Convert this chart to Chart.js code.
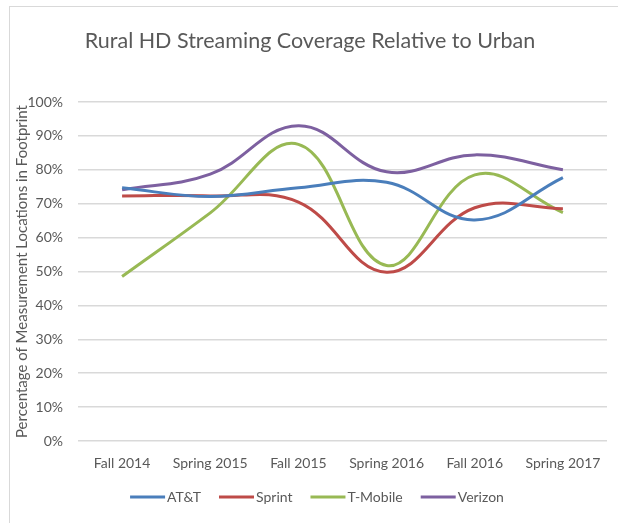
<!DOCTYPE html>
<html>
<head>
<meta charset="utf-8">
<script src="https://cdn.jsdelivr.net/npm/chart.js@4"></script>
<style>
  html, body { margin: 0; padding: 0; background: #ffffff; }
  #wrap { position: relative; width: 618px; height: 523px; overflow: hidden; }
  #frame { position: absolute; left: 9px; top: 6px; width: 640px; height: 560px; border: 1px solid #d9d9d9; box-sizing: border-box; pointer-events: none; }
  canvas { position: absolute; left: 0; top: 0; }
</style>
</head>
<body>
<div id="wrap">
  <canvas id="c" width="618" height="523"></canvas>
  <div id="frame"></div>
</div>
<script>
const categories = ["Fall 2014", "Spring 2015", "Fall 2015", "Spring 2016", "Fall 2016", "Spring 2017"];
const seriesNames = ["AT&T", "Sprint", "T-Mobile", "Verizon"];
const att     = [74.7, 72.1, 74.7, 76.3, 65.2, 77.7];
const sprint  = [72.3, 72.3, 70.5, 49.8, 68.8, 68.5];
const tmobile = [48.5, 67.3, 87.5, 51.8, 78.5, 67.4];
const verizon = [74.1, 78.7, 93.0, 79.4, 84.4, 80.0];
const yTicks = [0, 10, 20, 30, 40, 50, 60, 70, 80, 90, 100];
const colors = ["#4a7ebb", "#be4b48", "#98b954", "#7d60a0"];
const allSeries = [att, sprint, tmobile, verizon];

const FONT = "Lato, 'Open Sans', sans-serif";
const textColor = "#595959";

// Excel-style legend: short line, tight text gap
const excelLegend = {
  id: "excelLegend",
  afterDraw(chart) {
    const ctx = chart.ctx;
    const lineLen = 35, textGap = 2, itemGap = 18;
    ctx.save();
    ctx.font = "14px " + FONT;
    const items = chart.data.datasets.map(ds => ({
      label: ds.label, color: ds.borderColor, w: ctx.measureText(ds.label).width
    }));
    const total = items.reduce((s, it) => s + lineLen + textGap + it.w, 0) + itemGap * (items.length - 1);
    let x = 317 - total / 2;
    const y = 497;
    ctx.textBaseline = "middle";
    ctx.textAlign = "left";
    items.forEach(it => {
      ctx.strokeStyle = it.color;
      ctx.lineWidth = 3;
      ctx.beginPath();
      ctx.moveTo(x, y);
      ctx.lineTo(x + lineLen, y);
      ctx.stroke();
      ctx.fillStyle = textColor;
      ctx.fillText(it.label, x + lineLen + textGap, y + 0.5);
      x += lineLen + textGap + it.w + itemGap;
    });
    ctx.restore();
  }
};

new Chart(document.getElementById("c"), {
  type: "line",
  data: {
    labels: categories,
    datasets: seriesNames.map((n, i) => ({
      label: n,
      data: allSeries[i],
      borderColor: colors[i],
      backgroundColor: colors[i],
      borderWidth: 3,
      pointRadius: 0,
      tension: 0.4,
      fill: false
    }))
  },
  plugins: [excelLegend],
  options: {
    responsive: false,
    animation: false,
    devicePixelRatio: 1,
    layout: { padding: { left: 13, right: 11, top: 28, bottom: 37.2 } },
    plugins: {
      title: {
        display: true,
        text: "Rural HD Streaming Coverage Relative to Urban",
        color: textColor,
        font: { family: FONT, size: 21.5, weight: "normal" },
        padding: { top: 0, bottom: 48.2 }
      },
      legend: { display: false },
      tooltip: { enabled: false }
    },
    scales: {
      x: {
        offset: true,
        grid: { display: false, drawTicks: false },
        border: { display: false },
        ticks: { color: textColor, font: { family: FONT, size: 14 }, padding: 14, maxRotation: 0, autoSkip: false }
      },
      y: {
        min: 0,
        max: 100,
        afterBuildTicks: (axis) => { axis.ticks = yTicks.map(v => ({ value: v })); },
        afterFit: (axis) => { axis.width = 65; },
        grid: { color: "#d9d9d9", lineWidth: 1.5, drawTicks: false },
        border: { display: false },
        ticks: {
          color: textColor,
          font: { family: FONT, size: 14 },
          padding: 15,
          callback: (v) => v + "%"
        },
        title: {
          display: true,
          text: "Percentage of Measurement Locations in Footprint",
          color: textColor,
          font: { family: FONT, size: 15 },
          padding: { top: 0, bottom: 0 }
        }
      }
    }
  }
});
</script>
</body>
</html>
